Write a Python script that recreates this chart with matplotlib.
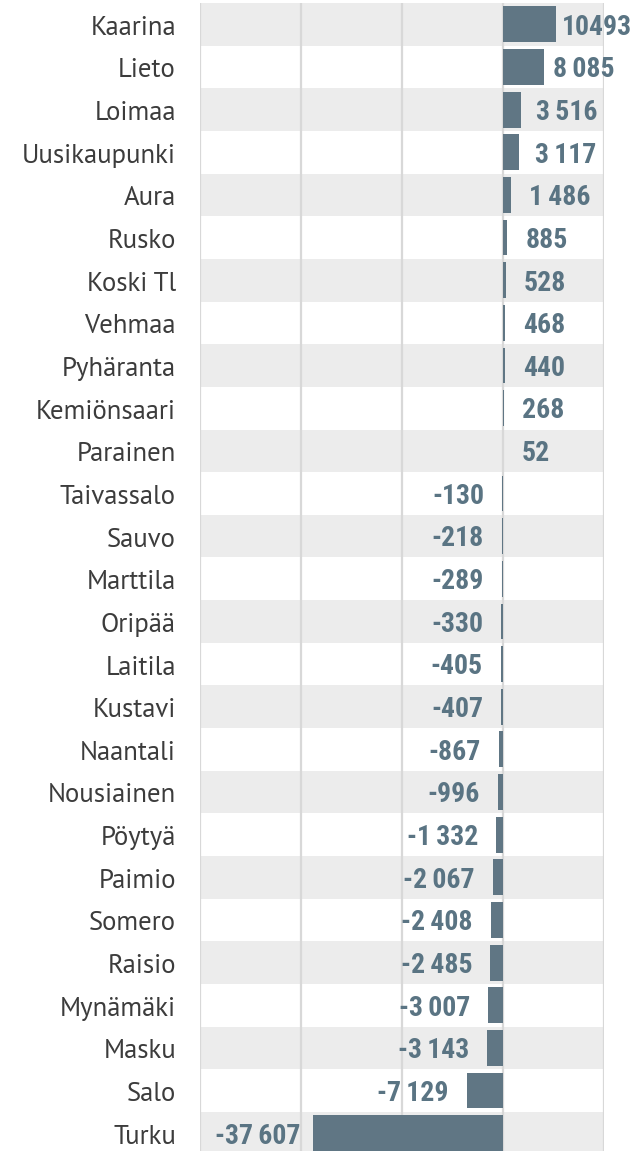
import matplotlib
matplotlib.use("Agg")
import matplotlib.pyplot as plt
from matplotlib import font_manager as fm
import numpy as np

categories = ["Kaarina", "Lieto", "Loimaa", "Uusikaupunki", "Aura", "Rusko", "Koski Tl",
              "Vehmaa", "Pyhäranta", "Kemiönsaari", "Parainen", "Taivassalo", "Sauvo",
              "Marttila", "Oripää", "Laitila", "Kustavi", "Naantali", "Nousiainen",
              "Pöytyä", "Paimio", "Somero", "Raisio", "Mynämäki", "Masku", "Salo", "Turku"]
values = [10493, 8085, 3516, 3117, 1486, 885, 528, 468, 440, 268, 52, -130, -218,
          -289, -330, -405, -407, -867, -996, -1332, -2067, -2408, -2485, -3007,
          -3143, -7129, -37607]
grid_ticks = [-60000, -40000, -20000, 0, 20000]

names = {f.name for f in fm.fontManager.ttflist}
def pick(cands):
    for c in cands:
        if c in names:
            return c
    return "DejaVu Sans"
num_family = pick(["Roboto Condensed", "Fira Sans Extra Condensed", "Barlow Semi Condensed",
                   "PT Sans Narrow", "Open Sans Condensed", "Sofia Sans Condensed",
                   "Saira ExtraCondensed"])
cat_family = pick(["PT Sans", "Open Sans", "Noto Sans"])

W, H = 636, 1151
fig = plt.figure(figsize=(W / 100, H / 100), dpi=100)
top_px, row_h = 3, 42.65
n = len(categories)
bottom_px = top_px + n * row_h
ax = fig.add_axes([200 / W, 1 - bottom_px / H, 404 / W, (bottom_px - top_px) / H])
ax.set_xlim(grid_ticks[0], grid_ticks[-1])
ax.set_ylim(n - 0.5, -0.5)
ax.axis("off")

for i in range(n):
    if i % 2 == 0:
        ax.axhspan(i - 0.5, i + 0.5, color="#ececec", lw=0, zorder=0)
for g in grid_ticks:
    ax.axvline(g, color="#d8d8d8", lw=1.6, zorder=1)

bar_color = "#607684"
ax.barh(np.arange(n), values, height=0.84, color=bar_color, zorder=2)

def fmt(v):
    s = f"{abs(v):,}".replace(",", "\u2009")
    if v >= 10000:
        s = f"{abs(v)}"
    return ("-" if v < 0 else "") + s

for i, (c, v) in enumerate(zip(categories, values)):
    ax.annotate(c, xy=(0, i), xycoords=("axes fraction", "data"), xytext=(-24 * 0.72, -2.5),
                textcoords="offset points", ha="right", va="center",
                fontsize=19.3, family=cat_family, color="#3c3c3c", annotation_clip=False)
    if v >= 0:
        gap = float(np.clip(18 - 12 * (v - 1500) / 9000, 6, 18))
        ax.annotate(fmt(v), xy=(v, i), xytext=(gap * 0.72, -2), textcoords="offset points",
                    ha="left", va="center", fontsize=20, fontweight="bold",
                    family=num_family, color="#5a7483", annotation_clip=False)
    else:
        gap = 18 if v > -10000 else 13
        ax.annotate(fmt(v), xy=(v, i), xytext=(-gap * 0.72, -2), textcoords="offset points",
                    ha="right", va="center", fontsize=20, fontweight="bold",
                    family=num_family, color="#5a7483", annotation_clip=False)

fig.savefig("out.png", dpi=100)
